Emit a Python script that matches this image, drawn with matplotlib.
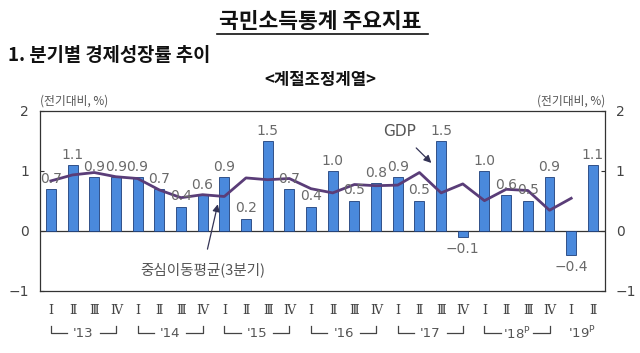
import matplotlib.pyplot as plt
import matplotlib.transforms as mtransforms

plt.rcParams['font.family'] = ['Noto Sans CJK KR', 'DejaVu Sans']

# quarter-on-quarter GDP growth, 2013 Q1 .. 2019 Q2
gdp = [0.7, 1.1, 0.9, 0.9, 0.9, 0.7, 0.4, 0.6, 0.9, 0.2, 1.5, 0.7, 0.4,
       1.0, 0.5, 0.8, 0.9, 0.5, 1.5, -0.1, 1.0, 0.6, 0.5, 0.9, -0.4, 1.1]
# centred 3-quarter moving average, 2013 Q1 .. 2019 Q1
ma3 = [0.83, 0.93, 0.97, 0.90, 0.87, 0.68, 0.55, 0.60, 0.57, 0.88, 0.85, 0.87,
       0.70, 0.63, 0.77, 0.75, 0.76, 0.97, 0.63, 0.78, 0.50, 0.69, 0.67, 0.34, 0.54]
quarters = ['Ⅰ', 'Ⅱ', 'Ⅲ', 'Ⅳ'] * 6 + ['Ⅰ', 'Ⅱ']
years = ["'13", "'14", "'15", "'16", "'17", "'18$^\\mathsf{P}$", "'19$^\\mathsf{P}$"]

x = list(range(len(gdp)))

fig = plt.figure(figsize=(6.4, 3.53), dpi=100)
ax = fig.add_axes([0.0625, 0.177, 0.8825, 0.509])

ax.bar(x, gdp, width=0.46, color='#4a89dc', edgecolor='#1f3f7a', linewidth=0.6, zorder=2)
ax.plot(range(len(ma3)), ma3, color='#5a3d78', linewidth=2, zorder=3)
ax.axhline(0, color='#333333', linewidth=0.9, zorder=1)

for xi, v in zip(x, gdp):
    off = 0.17 if v >= 0 else -0.2
    ax.text(xi, v + off, f'{v:.1f}'.replace('-', '−'), ha='center', va='center',
            fontsize=10, color='#6a6a6a', family='DejaVu Sans', zorder=4)

ax.set_xlim(-0.5, 25.55)
ax.set_ylim(-1, 2)
ax.set_yticks([-1, 0, 1, 2])
ax.set_yticklabels(['−1', '0', '1', '2'], family='DejaVu Sans')
ax.set_xticks([])
ax.tick_params(axis='y', direction='in', length=3, labelsize=10, colors='#333333',
               labelcolor='#444444', pad=8, right=True, labelright=True)
for s in ax.spines.values():
    s.set_color('#333333')
    s.set_linewidth(0.9)

ax.text(0.0, 1.02, '(전기대비, %)', transform=ax.transAxes, fontsize=8.5,
        color='#555555', ha='left', va='bottom')
ax.text(1.0, 1.02, '(전기대비, %)', transform=ax.transAxes, fontsize=8.5,
        color='#555555', ha='right', va='bottom')

# annotations
ax.annotate('GDP', xy=(17.55, 1.13), xytext=(16.1, 1.65), fontsize=11, color='#555555',
            family='DejaVu Sans', ha='center', va='center',
            arrowprops=dict(arrowstyle='-|>', color='#333355', lw=0.9, shrinkA=6, shrinkB=0))
ax.annotate('중심이동평균(3분기)', xy=(7.7, 0.44), xytext=(7.0, -0.66), fontsize=10.5,
            color='#555555', ha='center', va='center',
            arrowprops=dict(arrowstyle='-|>', color='#333355', lw=0.9, shrinkA=8, shrinkB=0))

# quarter labels and year brackets
trans = mtransforms.blended_transform_factory(ax.transData, ax.transAxes)
for xi, q in zip(x, quarters):
    ax.text(xi, -0.11, q, transform=trans, ha='center', va='center', fontsize=9,
            color='#444444', family='DejaVu Serif')
for i, y in enumerate(years):
    x0 = i * 4
    if i < 6:
        x1 = x0 + 3
        xm = x0 + 1.5
        ax.plot([x0, x0, xm - 0.75], [-0.195, -0.235, -0.235], transform=trans,
                color='#444444', lw=0.9, clip_on=False)
        ax.plot([xm + 0.75, x1, x1], [-0.235, -0.235, -0.195], transform=trans,
                color='#444444', lw=0.9, clip_on=False)
        ax.text(xm, -0.24, y, transform=trans, ha='center', va='center', fontsize=9.5,
                color='#555555', family='DejaVu Sans')
    else:
        ax.text(x0 + 0.5, -0.235, y, transform=trans, ha='center', va='center',
                fontsize=9.5, color='#555555', family='DejaVu Sans')

# headings
fig.text(0.5, 0.94, '국민소득통계 주요지표', ha='center', va='center', fontsize=15.5,
         fontweight='bold', color='#111111')
fig.add_artist(plt.Line2D([0.339, 0.669], [0.905, 0.905], color='#111111', lw=1.2))
fig.text(0.012, 0.843, '1. 분기별 경제성장률 추이', ha='left', va='center', fontsize=13.5,
         fontweight='bold', color='#111111')
fig.text(0.5, 0.774, '<계절조정계열>', ha='center', va='center', fontsize=12,
         fontweight='bold', color='#111111')

fig.savefig('out.png', dpi=100, facecolor='white')
